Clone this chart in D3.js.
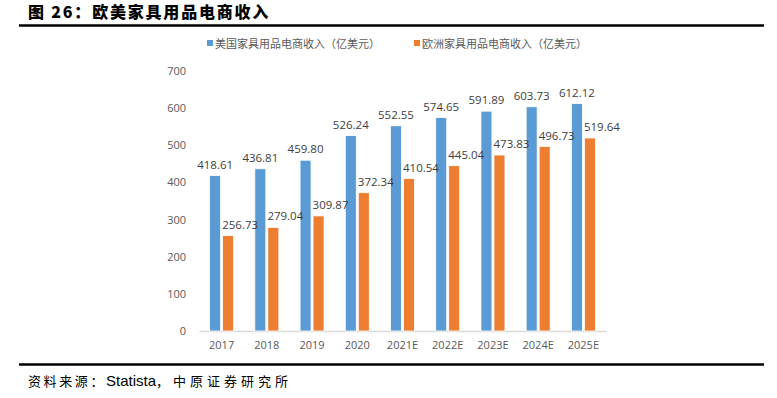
<!DOCTYPE html>
<html><head><meta charset="utf-8">
<script src="https://cdn.jsdelivr.net/npm/d3@7"></script>
<style>body{margin:0;background:#fff}svg{display:block}</style>
</head><body>
<svg id="c" width="777" height="398"></svg>
<script>
const categories = ["2017","2018","2019","2020","2021E","2022E","2023E","2024E","2025E"];
const usValues = [418.61,436.81,459.80,526.24,552.55,574.65,591.89,603.73,612.12];
const euValues = [256.73,279.04,309.87,372.34,410.54,445.04,473.83,496.73,519.64];
const seriesNames = ["美国家具用品电商收入（亿美元）","欧洲家具用品电商收入（亿美元）"];
const yTicks = [0,100,200,300,400,500,600,700];
const colors = ["#5B9BD5","#ED7D31"];
const titleText = "图 26：欧美家具用品电商收入";
const sourceParts = ["资料来源：","Statista","，中原证券研究所"];

const svg = d3.select("#c");
const sans = "'Noto Sans CJK SC','DejaVu Sans',sans-serif";

// title
svg.append("text").attr("x",28).attr("y",18).attr("font-family",sans)
  .attr("font-weight","900").attr("font-size",16).attr("letter-spacing",1.8)
  .attr("fill","#000").text(titleText);
svg.append("line").attr("x1",19).attr("x2",764).attr("y1",25.5).attr("y2",25.5)
  .attr("stroke","#000").attr("stroke-width",2.5);
svg.append("line").attr("x1",19).attr("x2",764).attr("y1",364.5).attr("y2",364.5)
  .attr("stroke","#000").attr("stroke-width",2.5);
const src = svg.append("text").attr("x",28).attr("y",386).attr("fill","#000");
src.append("tspan").attr("font-family",sans).attr("font-size",13).attr("letter-spacing",2.6).text(sourceParts[0]);
src.append("tspan").attr("font-family","'Liberation Sans',Arial,sans-serif").attr("font-size",15).attr("letter-spacing",0).text(sourceParts[1]);
src.append("tspan").attr("font-family",sans).attr("font-size",13).attr("letter-spacing",4).text(sourceParts[2]);

const x = d3.scaleBand().domain(categories).range([199,606]).padding(0);
const y = d3.scaleLinear().domain([0,700]).range([331,71]);

// y axis labels
const yAxis = d3.axisLeft(y).tickValues(yTicks).tickSize(0).tickPadding(0);
const ga = svg.append("g").attr("transform","translate(186,0)").call(yAxis);
ga.select(".domain").remove();
ga.selectAll("text").attr("font-family","'Open Sans','DejaVu Sans',sans-serif")
  .attr("font-size",11).attr("fill","#595959");

// x axis
const xAxis = d3.axisBottom(x).tickSize(0).tickPadding(10);
const gx = svg.append("g").attr("transform","translate(0,331)").call(xAxis);
gx.select(".domain").attr("stroke","#D9D9D9").attr("stroke-width",1.5);
gx.selectAll("text").attr("font-family","'Open Sans','DejaVu Sans',sans-serif")
  .attr("font-size",11).attr("fill","#595959");

const bw = 11, gap = 2;
const series = [usValues, euValues];
series.forEach((vals,si)=>{
  const off = si===0 ? -(bw+gap/2) : gap/2;
  svg.append("g").selectAll("rect").data(vals).join("rect")
    .attr("x",(d,i)=>x(categories[i])+x.bandwidth()/2+off)
    .attr("y",d=>y(d)).attr("width",bw).attr("height",d=>y(0)-y(d))
    .attr("fill",colors[si]).attr("stroke","#fff").attr("stroke-width",0.8);
  svg.append("g").selectAll("text").data(vals).join("text")
    .attr("x",(d,i)=>x(categories[i])+x.bandwidth()/2+off+bw/2+(si===1?12:0))
    .attr("y",d=>y(d)-7)
    .attr("text-anchor","middle").attr("font-family","'Open Sans','DejaVu Sans',sans-serif")
    .attr("font-size",11.5).attr("fill","#404040").text(d=>d.toFixed(2));
});

// legend
const legX = [207,414];
seriesNames.forEach((n,i)=>{
  svg.append("rect").attr("x",legX[i]).attr("y",40).attr("width",6).attr("height",6).attr("fill",colors[i]);
  svg.append("text").attr("x",legX[i]+8).attr("y",47.5).attr("font-family",sans)
    .attr("font-size",11).attr("fill","#595959").text(n);
});
</script>
</body></html>
